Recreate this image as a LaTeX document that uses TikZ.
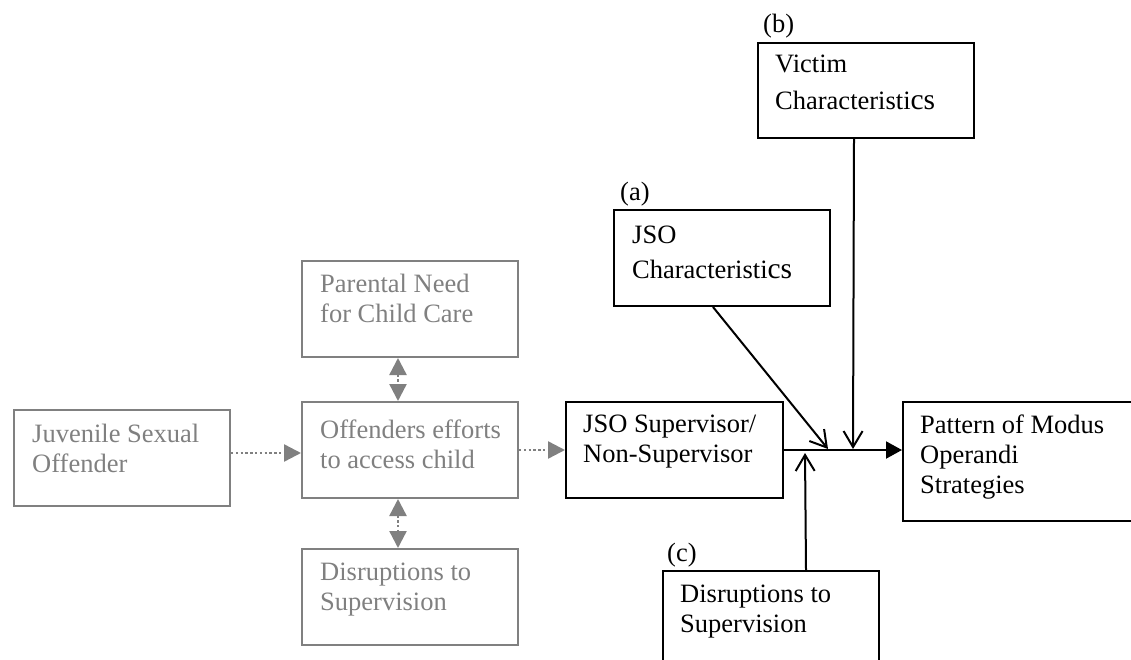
\documentclass[tikz,border=0pt]{standalone}
\usepackage{fontspec}
\setmainfont{Liberation Serif}
\usetikzlibrary{arrows.meta,positioning}
\definecolor{boxgrey}{RGB}{128,128,128}
\tikzset{
  grbox/.style={draw=boxgrey, line width=2pt, anchor=north west, minimum width=216pt, minimum height=96pt, inner sep=0pt},
  bkbox/.style={draw=black, line width=2pt, anchor=north west, minimum width=216pt, minimum height=96pt, inner sep=0pt},
  txt/.style={anchor=base west, align=left, inner sep=0pt, font=\fontsize{26.5}{30}\selectfont},
  grtxt/.style={txt, text=boxgrey},
  dotarrow/.style={draw=boxgrey, line width=2.4pt, dash pattern=on 2.4pt off 2.4pt, -{Triangle[length=17pt,width=17pt]}},
  dotboth/.style={dotarrow, {Triangle[length=17pt,width=17pt]}-{Triangle[length=17pt,width=17pt]}},
  openarrow/.style={line width=2pt, -{Straight Barb[length=16pt,width=19pt,line width=2pt]}},
  fullarrow/.style={line width=2pt, -{Triangle[length=16pt,width=17pt]}}
}

\begin{document}
\begin{tikzpicture}[x=1pt,y=-1pt]
\clip (0,0) rectangle (1131,660);

\node[grbox] (juv) at (13,409) {};
\node[grbox] (need) at (301,260) {};
\node[grbox] (effort) at (301,401) {};
\node[grbox] (disr) at (301,548) {};
\node[bkbox, minimum width=217pt] (sup) at (565,401) {};
\node[bkbox] (jchar) at (613,209) {};
\node[bkbox, minimum height=95pt] (vchar) at (757,42) {};
\node[bkbox, minimum width=240pt, minimum height=119pt] (pmo) at (902,401) {};
\node[bkbox, minimum height=100pt] (disrb) at (662,570) {};

\node[grtxt] (juv-t) at ([shift={(19,63)}]juv.north west) {Juvenile Sexual\\Offender};
\node[grtxt] (need-t) at ([shift={(19,62)}]need.north west) {Parental Need\\for Child Care};
\node[grtxt] (effort-t) at ([shift={(19,67)}]effort.north west) {Offenders efforts\\to access child};
\node[grtxt] (disr-t) at ([shift={(19,62)}]disr.north west) {Disruptions to\\Supervision};
\node[txt] (sup-t) at ([shift={(18,61)}]sup.north west) {JSO Supervisor/\\Non-Supervisor};
\node[txt] (jchar-t) at ([shift={(19,69)}]jchar.north west) {JSO\\[5pt]Characteristi{\fontsize{29.5}{30}\selectfont cs}};
\node[txt] (vchar-t) at ([shift={(18,68)}]vchar.north west) {Victim\\[7pt]Characteristi{\fontsize{29.5}{30}\selectfont cs}};
\node[txt] (pmo-t) at ([shift={(18,92)}]pmo.north west) {Pattern of Modus\\Operandi\\Strategies};
\node[txt] (disrb-t) at ([shift={(18,62)}]disrb.north west) {Disruptions to\\Supervision};

\node[txt] (lab-a) at (620,201) {(a)};
\node[txt] (lab-b) at (763,33) {(b)};
\node[txt] (lab-c) at (667,561) {(c)};

\draw[dotarrow] ([yshift=5pt]juv.east) -- ([yshift=5pt]juv.east -| effort.west);
\draw[dotarrow] (effort.east) -- (sup.west);
\draw[dotboth] ([xshift=-12pt]need.south) -- ([xshift=-12pt]effort.north);
\draw[dotboth] ([xshift=-12pt]effort.south) -- ([xshift=-12pt]disr.north);

\coordinate (hitA) at (828,449);
\coordinate (hitB) at (853,449);
\coordinate (hitC) at (805,453);
\coordinate (fromA) at ([xshift=-9pt]jchar.south);
\coordinate (fromB) at ([xshift=-12pt]vchar.south);
\coordinate (fromC) at ([xshift=35pt]disrb.north);

\draw[fullarrow] (sup.east) -- (sup.east -| pmo.west);
\foreach \x in {A,B,C} {
\draw[openarrow] (from\x) -- (hit\x);
};
\end{tikzpicture}
\end{document}
